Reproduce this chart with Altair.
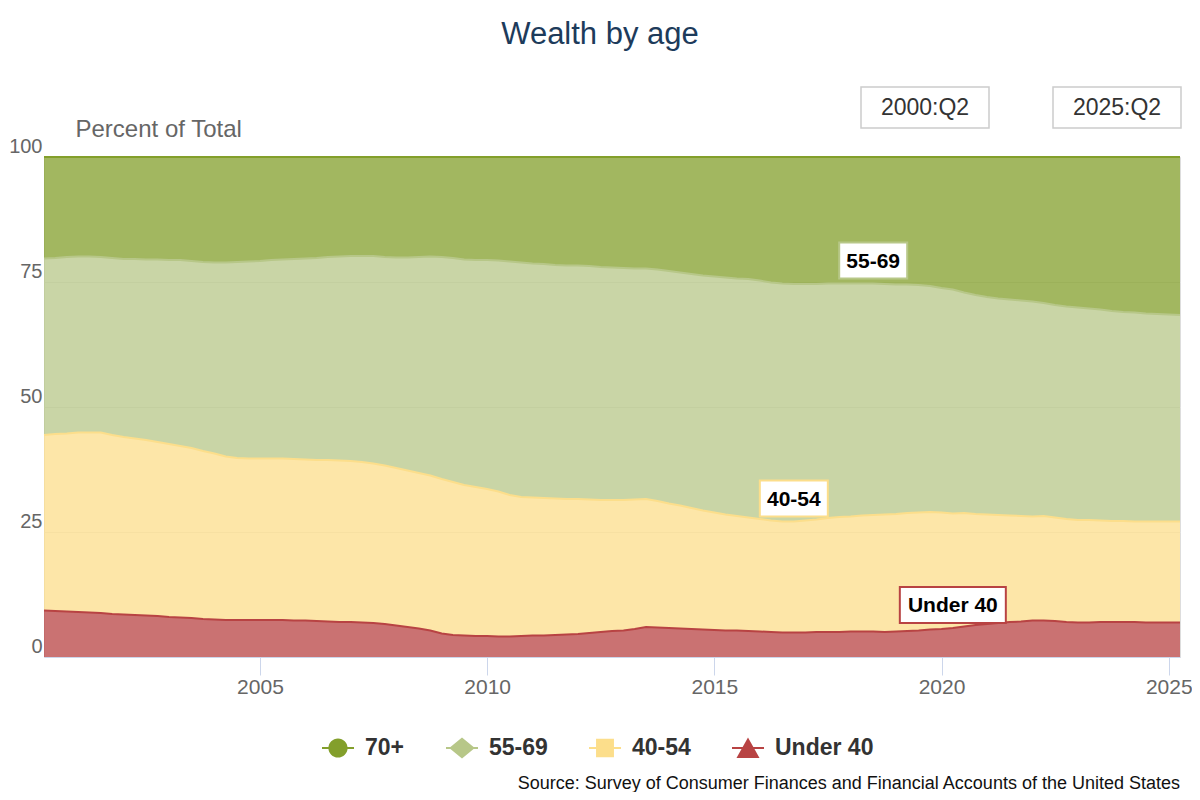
import altair as alt
import pandas as pd

FONT = "Liberation Sans, Arial, sans-serif"

# ---------------- data (percent of total wealth, quarterly 2000:Q2 .. 2025:Q2) -------------
first_quarter = "2000-04-01"
last_quarter = "2025-04-01"

under40 = [9.3, 9.2, 9.1,
           9.0, 8.9, 8.8, 8.6,  8.5, 8.4, 8.3, 8.2,  8.0, 7.9, 7.8, 7.6,  7.5, 7.4, 7.4, 7.4,
           7.4, 7.4, 7.4, 7.3,  7.3, 7.2, 7.1, 7.0,  7.0, 6.9, 6.8, 6.6,  6.3, 6.0, 5.7, 5.3,
           4.7, 4.4, 4.3, 4.2,  4.2, 4.1, 4.1, 4.2,  4.3, 4.3, 4.4, 4.5,  4.6, 4.8, 5.0, 5.2,
           5.3, 5.6, 6.0, 5.9,  5.8, 5.7, 5.6, 5.5,  5.4, 5.3, 5.3, 5.2,  5.1, 5.0, 4.9, 4.9,
           4.9, 5.0, 5.0, 5.0,  5.1, 5.1, 5.1, 5.0,  5.1, 5.2, 5.3, 5.5,  5.6, 5.8, 6.1, 6.4,
           6.6, 6.8, 7.0, 7.1,  7.3, 7.3, 7.2, 7.0,  6.9, 6.9, 7.0, 7.0,  7.0, 7.0, 6.9, 6.9,
           6.9, 6.9]

age40_54 = [35.1, 35.4, 35.6,
            35.9, 36.0, 36.1, 35.8,  35.5, 35.3, 35.1, 34.8,  34.6, 34.3, 34.0, 33.6,  33.2, 32.7, 32.4, 32.3,
            32.3, 32.3, 32.3, 32.3,  32.2, 32.2, 32.3, 32.3,  32.2, 32.1, 31.9, 31.7,  31.5, 31.3, 31.1, 31.0,
            30.9, 30.6, 30.1, 29.8,  29.4, 29.0, 28.3, 27.8,  27.6, 27.5, 27.3, 27.1,  27.0, 26.7, 26.4, 26.2,
            26.1, 25.9, 25.6, 25.3,  24.9, 24.6, 24.2, 23.8,  23.5, 23.2, 22.9, 22.7,  22.5, 22.3, 22.2, 22.2,
            22.4, 22.5, 22.8, 23.0,  23.0, 23.2, 23.3, 23.5,  23.5, 23.6, 23.6, 23.5,  23.3, 22.9, 22.7, 22.2,
            21.9, 21.6, 21.3, 21.1,  20.8, 20.9, 20.7, 20.6,  20.5, 20.5, 20.3, 20.2,  20.2, 20.1, 20.2, 20.2,
            20.2, 20.2]

age55_69 = [35.3, 35.2, 35.3,
            35.2, 35.2, 35.1, 35.4,  35.6, 35.9, 36.1, 36.5,  36.8, 37.2, 37.4, 37.8,  38.2, 38.8, 39.2, 39.4,
            39.5, 39.7, 39.8, 40.0,  40.2, 40.4, 40.6, 40.8,  41.0, 41.2, 41.5, 41.7,  42.1, 42.6, 43.2, 43.8,
            44.4, 44.8, 45.1, 45.4,  45.8, 46.2, 46.7, 46.9,  46.8, 46.8, 46.7, 46.7,  46.7, 46.7, 46.6, 46.5,
            46.4, 46.2, 46.1, 46.3,  46.5, 46.6, 46.8, 47.0,  47.2, 47.4, 47.5, 47.7,  47.7, 47.6, 47.6, 47.5,
            47.3, 47.1, 46.9, 46.7,  46.6, 46.4, 46.3, 46.1,  45.9, 45.7, 45.5, 45.2,  44.9, 44.8, 44.1, 43.8,
            43.5, 43.3, 43.2, 43.1,  43.0, 42.6, 42.5, 42.5,  42.5, 42.3, 42.2, 42.0,  41.8, 41.8, 41.6, 41.5,
            41.4, 41.3]

age70p = [20.3, 20.2, 20.0,
          19.9, 19.9, 20.0, 20.2,  20.4, 20.4, 20.5, 20.5,  20.6, 20.6, 20.8, 21.0,  21.1, 21.1, 21.0, 20.9,
          20.8, 20.6, 20.5, 20.4,  20.3, 20.2, 20.0, 19.9,  19.8, 19.8, 19.8, 20.0,  20.1, 20.1, 20.0, 19.9,
          20.0, 20.2, 20.5, 20.6,  20.6, 20.7, 20.9, 21.1,  21.3, 21.4, 21.6, 21.7,  21.7, 21.8, 22.0, 22.1,
          22.2, 22.3, 22.3, 22.5,  22.8, 23.1, 23.4, 23.7,  23.9, 24.1, 24.3, 24.4,  24.7, 25.1, 25.3, 25.4,
          25.4, 25.4, 25.3, 25.3,  25.3, 25.3, 25.3, 25.4,  25.5, 25.5, 25.6, 25.8,  26.2, 26.5, 27.1, 27.6,
          28.0, 28.3, 28.5, 28.7,  28.9, 29.2, 29.6, 29.9,  30.1, 30.3, 30.5, 30.8,  31.0, 31.1, 31.3, 31.4,
          31.5, 31.6]

series_names = ["70+", "55-69", "40-54", "Under 40"]      # legend order
stack_order = {"Under 40": 0, "40-54": 1, "55-69": 2, "70+": 3}  # bottom -> top
series_values = {"70+": age70p, "55-69": age55_69, "40-54": age40_54, "Under 40": under40}
series_colors = ["#839f2b", "#b7c788", "#fcde8b", "#b84343"]

# annotated points (series, quarter)
annotations = [("55-69", "2018-07-01"), ("40-54", "2016-10-01"), ("Under 40", "2020-04-01")]

source_text = "Source: Survey of Consumer Finances and Financial Accounts of the United States"
title_text = "Wealth by age"
y_title = "Percent of Total"
y_ticks = [0, 25, 50, 75, 100]
x_tick_years = [2005, 2010, 2015, 2020, 2025]

# ---------------- tables ----------------
dates = pd.date_range(first_quarter, last_quarter, freq="QS")
for s in series_names:
    assert len(series_values[s]) == len(dates), (s, len(series_values[s]), len(dates))

rows = []
for s in series_names:
    for d, v in zip(dates, series_values[s]):
        rows.append({"date": d, "series": s, "value": v, "ord": stack_order[s]})
df = pd.DataFrame(rows)


def qlabel(d):
    return f"{d.year}:Q{(d.month - 1) // 3 + 1}"


color_scale = alt.Scale(domain=series_names, range=series_colors)
# legend symbols: a short line with a marker on it
LINE = "M-1,-0.065H1V0.065H-1Z"
legend_shapes = [
    LINE + "M0.6,0A0.6,0.6,0,1,1,-0.6,0A0.6,0.6,0,1,1,0.6,0Z",
    LINE + "M0,-0.66L0.8,0L0,0.66L-0.8,0Z",
    LINE + "M-0.56,-0.58H0.56V0.58H-0.56Z",
    LINE + "M0,-0.66L0.72,0.62L-0.72,0.62Z",
]
shape_scale = alt.Scale(domain=series_names, range=legend_shapes)

PLOT_W, PLOT_H = 1136, 500
LEFT = 44  # page x of the plot's left edge (page margin 8 + padding)

x_scale = alt.Scale(domain=[alt.DateTime(year=2000, month=4, date=1),
                            alt.DateTime(year=2025, month=4, date=1)], nice=False)
y_scale = alt.Scale(domain=[0, 100], nice=False)

x_axis = alt.Axis(values=[alt.DateTime(year=y, month=1, date=1) for y in x_tick_years],
                  format="%Y", title=None, grid=False, labelFontSize=21, labelColor="#666666",
                  labelFont=FONT, tickColor="#ccd6eb", tickSize=18, domainColor="#ccd6eb",
                  domainWidth=1, labelPadding=1, labelFlush=False)
y_axis = alt.Axis(values=y_ticks, title=y_title, titleAngle=0, titleAlign="left",
                  titleBaseline="alphabetic", titleX=75 - LEFT, titleY=-21, titleFontSize=24,
                  titleFontWeight="normal", titleColor="#666666", titleFont=FONT,
                  labelFontSize=20, labelColor="#666666", labelFont=FONT,
                  labelBaseline="alphabetic", labelOffset=-5, labelPadding=2,
                  ticks=False, domain=False, grid=True, gridColor="#e6e6e6", gridWidth=1)

legend = alt.Legend(
    title=None, orient="none", legendX=322 - LEFT, legendY=575, direction="horizontal",
    labelFontSize=23, labelFontWeight="bold", labelColor="#333333", labelFont=FONT,
    symbolSize=1024, symbolStrokeWidth=0, symbolOpacity=1, labelOffset=11,
    columnPadding=41, padding=0,
)


def X(field="date:T"):
    return alt.X(field, scale=x_scale, axis=x_axis)


def Y(field):
    return alt.Y(field, scale=y_scale, axis=y_axis)


def C():
    return alt.Color("series:N", scale=color_scale, legend=legend)


base = alt.Chart(df).transform_stack(
    stack="value", groupby=["date"], as_=["y0", "y1"],
    sort=[alt.SortField("ord", order="ascending")]
)

area = base.mark_area(fillOpacity=0.75, strokeWidth=0).encode(
    x=X(), y=Y("y1:Q"), y2="y0:Q", color=C(),
)

lines = base.mark_line(strokeWidth=2).encode(
    x=X(), y=Y("y1:Q"), color=C(), detail="series:N",
)

# invisible (clipped) points that only carry the legend shapes
legend_pts = alt.Chart(df).mark_point(filled=True, opacity=1, clip=True).encode(
    x=alt.value(-5000),
    y=alt.value(-5000),
    color=C(),
    shape=alt.Shape("series:N", scale=shape_scale, legend=legend),
)

layers = [area, lines, legend_pts]

# annotations (callout boxes on the data points)
for (s, dstr), color in zip(annotations, [series_colors[1], series_colors[2], series_colors[3]]):
    i = list(dates).index(pd.Timestamp(dstr))
    cum = sum(series_values[k][i] for k in series_names if stack_order[k] <= stack_order[s])
    adf = pd.DataFrame({"date": [dates[i]], "y1": [round(cum, 2)], "label": [s]})
    w = 106 if s == "Under 40" else 68
    hh = 18.0 / (w / 2)
    path = f"M-1,-{hh:.3f}H1V{hh:.3f}H-1Z"
    box = alt.Chart(adf).mark_point(shape=path, size=w * w, filled=True, fill="white",
                                    stroke=color, strokeWidth=2, opacity=1, yOffset=-23).encode(
        x=X(), y=Y("y1:Q"),
    )
    txt = alt.Chart(adf).mark_text(fontSize=21, fontWeight="bold", font=FONT, color="#000000",
                                   baseline="middle", align="center", yOffset=-22).encode(
        x=X(), y=Y("y1:Q"), text="label:N",
    )
    layers += [box, txt]

# range selector style boxes (first / last quarter)
for lab, x0 in [(qlabel(dates[0]), 861 - LEFT), (qlabel(dates[-1]), 1053 - LEFT)]:
    rdf = pd.DataFrame({"label": [lab]})
    rect = alt.Chart(rdf).mark_rect(fill="white", stroke="#cccccc", strokeWidth=1.5).encode(
        x=alt.value(x0), x2=alt.value(x0 + 128), y=alt.value(-70), y2=alt.value(-29))
    rtxt = alt.Chart(rdf).mark_text(fontSize=23, font=FONT, color="#333333",
                                    align="center", baseline="middle").encode(
        x=alt.value(x0 + 64), y=alt.value(-49), text="label:N")
    layers += [rect, rtxt]

# chart title and source note
ttl = alt.Chart(pd.DataFrame({"t": [title_text]})).mark_text(
    fontSize=31, font=FONT, color="#1d3b5b", align="center", baseline="alphabetic").encode(
    x=alt.value(600 - LEFT), y=alt.value(-113), text="t:N")
src = alt.Chart(pd.DataFrame({"t": [source_text]})).mark_text(
    fontSize=18, font=FONT, color="#111111", align="right", baseline="middle").encode(
    x=alt.value(1180 - LEFT), y=alt.value(627), text="t:N")
layers += [ttl, src]

chart = alt.layer(*layers).properties(
    width=PLOT_W, height=PLOT_H,
    autosize=alt.AutoSizeParams(type="none"),
    padding={"left": LEFT - 8, "top": 149, "right": 12, "bottom": 135},
).configure_view(strokeWidth=0).configure(background="white")

chart.save("out.html", embed_options={"renderer": "svg", "actions": False})
